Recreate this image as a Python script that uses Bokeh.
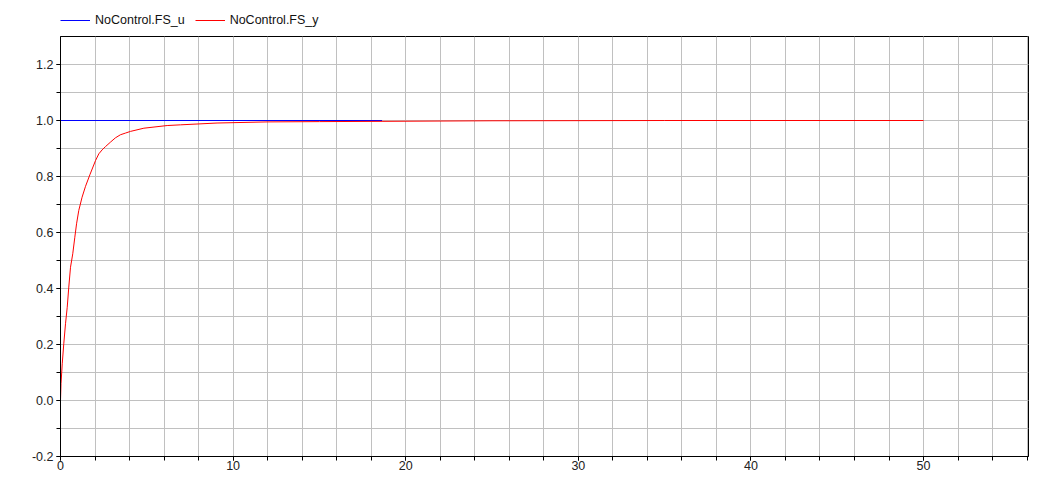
from bokeh.plotting import figure
from bokeh.layouts import column
from bokeh.models import Legend, LegendItem, Range1d, SingleIntervalTicker, PrintfTickFormatter
from bokeh.embed import file_html
from bokeh.resources import INLINE

# --- data ---
t_u = [0.0, 18.63]
u_vals = [1.0, 1.0]

t_y = [0.0, 0.03, 0.10, 0.19, 0.29, 0.39, 0.48, 0.58, 0.71, 0.83, 0.93, 1.06, 1.25,
       1.45, 1.70, 2.03, 2.22, 2.41, 2.61, 2.90, 3.18, 3.47, 3.76, 4.05, 4.83, 6.18,
       6.95, 9.07, 11.97, 15.0, 18.63, 25.0, 35.0, 50.0]
y_vals = [0.0, 0.06, 0.131, 0.2025, 0.274, 0.333, 0.405, 0.476, 0.524, 0.583, 0.631, 0.679, 0.726,
          0.765, 0.806, 0.857, 0.881, 0.895, 0.907, 0.923, 0.938, 0.949, 0.955, 0.961, 0.9725, 0.982,
          0.9845, 0.991, 0.995, 0.996, 0.997, 0.999, 1.0, 1.0]

series_names = ["NoControl.FS_u", "NoControl.FS_y"]
series_colors = ["#0000ff", "#ff0000"]

x_min, x_max = 0.0, 56.08
y_min, y_max = -0.2, 1.3

FONT = "Liberation Sans"
W = 1044

# ---------- main plot ----------
p = figure(width=W, height=438, output_backend="svg", toolbar_location=None,
           x_range=Range1d(x_min, x_max), y_range=Range1d(y_min, y_max),
           min_border_left=60, min_border_right=16, min_border_top=0, min_border_bottom=18)

p.background_fill_color = "white"
p.border_fill_color = "white"
p.outline_line_color = "black"
p.outline_line_width = 1

p.xaxis.ticker = SingleIntervalTicker(interval=10, num_minor_ticks=5)
p.yaxis.ticker = SingleIntervalTicker(interval=0.2, num_minor_ticks=2)
p.yaxis.formatter = PrintfTickFormatter(format="%.1f")

for ax in (p.xaxis[0], p.yaxis[0]):
    ax.axis_line_color = "black"
    ax.axis_line_width = 1
    ax.major_tick_line_color = "black"
    ax.minor_tick_line_color = "black"
    ax.major_tick_in = 0
    ax.minor_tick_in = 0
    ax.major_tick_out = 4
    ax.minor_tick_out = 4
    ax.major_label_text_font = FONT
    ax.major_label_text_font_size = "12.5px"
    ax.major_label_text_color = "#222222"

p.xaxis.major_label_standoff = 0
p.yaxis.major_label_standoff = 3

for g in (p.xgrid[0], p.ygrid[0]):
    g.grid_line_color = "#c0c0c0"
    g.grid_line_width = 1
    g.minor_grid_line_color = "#c0c0c0"
    g.minor_grid_line_width = 1

r_u = p.line(t_u, u_vals, line_color=series_colors[0], line_width=1)
r_y = p.line(t_y, y_vals, line_color=series_colors[1], line_width=1)

# ---------- legend strip above the plot ----------
leg = figure(width=W, height=36, output_backend="svg", toolbar_location=None,
             x_axis_type=None, y_axis_type=None,
             x_range=Range1d(0, 1), y_range=Range1d(0, 1),
             min_border_left=60, min_border_right=16, min_border_top=0, min_border_bottom=0)
leg.outline_line_color = None
leg.xgrid.visible = False
leg.ygrid.visible = False
leg.background_fill_color = "white"
leg.border_fill_color = "white"

# stand-in renderers (kept outside the visible range) so the legend can draw its swatches
d_u = leg.line([-5, -4], [-5, -5], line_color=series_colors[0], line_width=1)
d_y = leg.line([-5, -4], [-5, -5], line_color=series_colors[1], line_width=1)

legend = Legend(items=[LegendItem(label=series_names[0], renderers=[d_u]),
                       LegendItem(label=series_names[1], renderers=[d_y])],
                orientation="horizontal", location=(0, 9),
                padding=0, margin=0, spacing=10, label_standoff=5,
                glyph_width=30, glyph_height=14, label_height=14,
                label_text_font=FONT, label_text_font_size="12.5px",
                label_text_color="#111111",
                border_line_color=None, background_fill_alpha=0)
leg.add_layout(legend, "center")

layout = column(leg, p, spacing=0)

open("out.html", "w").write(file_html(layout, INLINE))
